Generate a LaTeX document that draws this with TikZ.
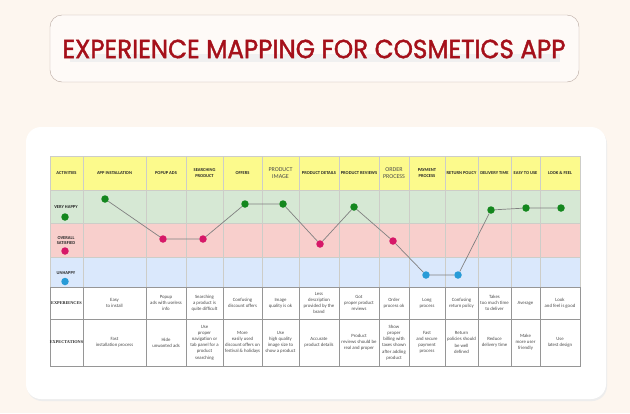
\documentclass[tikz,border=0pt]{standalone}
\usepackage{fontspec}
\setmainfont{Carlito}
\newfontfamily\titlefont[FakeBold=1.6]{Poppins}
\newfontfamily\labelfont{Liberation Serif}
\definecolor{paper}{RGB}{253,246,239}
\definecolor{titlered}{RGB}{165,16,26}
\definecolor{frame}{RGB}{184,168,160}
\definecolor{head}{RGB}{252,250,140}
\definecolor{happy}{RGB}{214,232,212}
\definecolor{okay}{RGB}{248,207,204}
\definecolor{sad}{RGB}{218,232,252}
\definecolor{dotgreen}{RGB}{20,135,30}
\definecolor{dotpink}{RGB}{214,24,104}
\definecolor{dotblue}{RGB}{40,155,215}
\definecolor{gridlight}{RGB}{205,205,200}
\definecolor{griddark}{RGB}{150,150,150}
\definecolor{ink}{RGB}{75,75,75}

\begin{document}
\begin{tikzpicture}[x=1pt,y=-1pt,
  mood/.style={circle,inner sep=0pt,minimum size=7.5pt},
  journey/.style={black!50,line width=.7pt},
  cell/.style={align=center,inner sep=0pt,text=ink,font=\fontsize{4.8}{6.2}\selectfont},
  headcell/.style={align=center,inner sep=0pt,text=black!85,font=\bfseries\fontsize{4.5}{5.6}\selectfont},
  rowlabel/.style={align=center,inner sep=0pt,text=black!85,font=\bfseries\fontsize{4.3}{6.5}\selectfont}]
\useasboundingbox (0,0) rectangle (630,413);
\fill[paper] (0,0) rectangle (630,413);
% title box
\draw[frame,fill=paper!50!white,rounded corners=12] (50,15) rectangle (579,82);
\fill[black!6] (70,54) rectangle (560,62);
\node[text=titlered,font=\titlefont\fontsize{26}{26}\selectfont] (title) at (314,49)
  {\resizebox{503pt}{18.5pt}{EXPERIENCE MAPPING FOR COSMETICS APP}};
% white card
\fill[black!7,rounded corners=15] (27,129) rectangle (607,401);
\fill[white,rounded corners=15] (26,127) rectangle (606,399);
% bands
\fill[head] (50,156) rectangle (580,190);
\fill[happy] (50,190) rectangle (580,223);
\fill[okay] (50,223) rectangle (580,257);
\fill[sad] (50,257) rectangle (580,287);
\foreach \y in {190,223,257} \draw[gridlight] (50,\y) -- (580,\y);
\foreach \x in {83,146,186,223,262,299,339,379,409,445,478,511,540} {
  \draw[gridlight] (\x,156) -- (\x,287);
  \draw[griddark] (\x,287) -- (\x,366);
}
\draw[griddark] (50,287) -- (580,287) (50,319) -- (580,319);
\draw[gridlight] (50,156) rectangle (580,287);
\draw[griddark] (50,287) rectangle (580,366);
% header row
\node[headcell] (act) at (66.5,173) {ACTIVITIES};
\foreach \x/\t [count=\i] in {114.5/APP INSTALLATION, 166/POPUP ADS, 204.5/{SEARCHING\\PRODUCT},
  242.5/OFFERS, 280.5/, 319/PRODUCT DETAILS, 359/PRODUCT REVIEWS, 394/,
  427/{PAYMENT\\PROCESS}, 461.5/RETURN POLICY, 494.5/DELIVERY TIME, 525.5/EASY TO USE, 560/LOOK \& FEEL}
  \node[headcell] (h\i) at (\x,173) {\t};
\node[cell,text=black!70,font=\fontsize{6}{6.4}\selectfont] (h5) at (280.5,173) {PRODUCT\\IMAGE};
\node[cell,text=black!70,font=\fontsize{6}{6.4}\selectfont] (h8) at (394,173) {ORDER\\PROCESS};
% mood rows
\node[headcell] (vh) at (66,207) {VERY HAPPY};
\node[mood,fill=dotgreen] (lg1) at (65,217) {};
\node[headcell] (os) at (66,240.5) {OVERALL\\SATISFIED};
\node[mood,fill=dotpink] (lg2) at (65,251) {};
\node[headcell] (uh) at (66,273) {UNHAPPY};
\node[mood,fill=dotblue] (lg3) at (65,281.5) {};
% journey
\foreach \x/\y/\c [count=\i] in {105/199/dotgreen, 163/239/dotpink, 203/239/dotpink, 245/204/dotgreen,
  283/204/dotgreen, 320/244/dotpink, 354/207/dotgreen, 393/241/dotpink, 426/275/dotblue,
  458/275/dotblue, 491/210/dotgreen, 526/208/dotgreen, 561/208/dotgreen}
  \node[mood,fill=\c] (d\i) at (\x,\y) {};
\draw[journey] (d1) -- (d2) -- (d3) -- (d4) -- (d5) -- (d6) -- (d7) -- (d8) -- (d9)
  -- (d10) -- (d11) -- (d12) -- (d13);
% experiences and expectations
\node[rowlabel,font=\labelfont\bfseries\fontsize{4.3}{5}\selectfont] (exl) at (66.5,303) {EXPERIENCES};
\node[rowlabel,font=\labelfont\bfseries\fontsize{4.3}{5}\selectfont] (epl) at (66.5,342.5) {EXPECTATIONS};
\foreach \x/\t [count=\i] in {114.5/{Easy\\to install}, 166/{Popup\\ads with useless\\info},
  204.5/{Searching\\a product is\\quite difficult}, 242.5/{Confusing\\discount offers},
  280.5/{Image\\quality is ok}, 319/{Less\\description\\provided by the\\brand},
  359/{Got\\proper product\\reviews}, 394/{Order\\process ok}, 427/{Long\\process},
  461.5/{Confusing\\return policy}, 494.5/{Takes\\too much time\\to deliver}, 525.5/{Average},
  560/{Look\\and feel is good}}
  \node[cell] (ex\i) at (\x,303) {\t};
\foreach \x/\t [count=\i] in {114.5/{Fast\\installation process}, 166/{Hide\\unwanted ads},
  204.5/{Use\\proper\\navigation or\\tab panel for a\\product\\searching},
  242.5/{More\\easily used\\discount offers on\\festival \& holidays},
  280.5/{Use\\high quality\\image size to\\show a product}, 319/{Accurate\\product details},
  359/{Product\\reviews should be\\real and proper},
  394/{Show\\proper\\billing with\\taxes shown\\after adding\\product},
  427/{Fast\\and secure\\payment\\process}, 461.5/{Return\\policies should\\be well\\defined},
  494.5/{Reduce\\delivery time}, 525.5/{Make\\more user\\friendly}, 560/{Use\\latest design}}
  \node[cell] (ep\i) at (\x,342.5) {\t};
\end{tikzpicture}
\end{document}
